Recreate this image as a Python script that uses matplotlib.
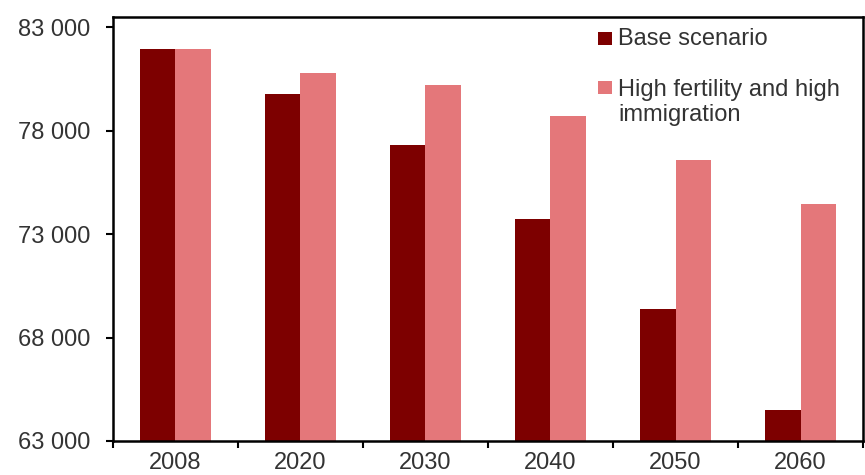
import matplotlib
matplotlib.use("Agg")
import matplotlib.pyplot as plt
import numpy as np
from matplotlib.ticker import FuncFormatter, FixedLocator
from matplotlib.patches import Rectangle

years = ["2008", "2020", "2030", "2040", "2050", "2060"]
base = [81950, 79780, 77300, 73720, 69370, 64500]
high = [81950, 80780, 80190, 78720, 76590, 74460]
series_labels = ["Base scenario", "High fertility and high\nimmigration"]
yticks = [63000, 68000, 73000, 78000, 83000]

dark = "#7D0000"
light = "#E4777A"
txt = "#333333"

plt.rcParams['font.family'] = ['Liberation Sans', 'DejaVu Sans']

fig = plt.figure(figsize=(8.65, 4.75), dpi=100)
ax = fig.add_axes([0.1306, 0.0716, 0.8671, 0.8926])

x = np.arange(len(years))
w = 0.284
ax.bar(x - w/2, base, width=w, color=dark, label=series_labels[0], zorder=2)
ax.bar(x + w/2, high, width=w, color=light, label=series_labels[1], zorder=2)

ax.set_xlim(-0.5, len(years) - 0.5)
ax.set_ylim(63000, 83500)

ax.set_yticks(yticks)
ax.yaxis.set_major_formatter(FuncFormatter(lambda v, p: f"{int(v):,}".replace(",", " ")))
ax.tick_params(axis='y', direction='out', length=5, width=1.5, colors='black',
               labelcolor=txt, labelsize=17, pad=11)

ax.set_xticks(x)
ax.set_xticklabels(years)
ax.xaxis.set_minor_locator(FixedLocator(np.arange(-0.5, len(years), 1.0)))
ax.tick_params(axis='x', which='major', length=0, labelcolor=txt, labelsize=17, pad=8)
ax.tick_params(axis='x', which='minor', direction='out', length=5, width=1.5, colors='black')

for s in ax.spines.values():
    s.set_linewidth(1.8)
    s.set_color('black')

# legend (manual layout to match the reference)
colors = [dark, light]
square_y = [0.934, 0.8184]
text_y = [0.934, 0.7547]
sq_x, sq_w, sq_h = 0.6467, 0.019, 0.031
for lab, col, sy, ty in zip(series_labels, colors, square_y, text_y):
    ax.add_patch(Rectangle((sq_x, sy), sq_w, sq_h, transform=ax.transAxes,
                           facecolor=col, edgecolor='none', clip_on=False, zorder=3))
    ax.text(0.6733, ty, lab, transform=ax.transAxes, ha='left', va='baseline',
            fontsize=17, color=txt, linespacing=1.2, zorder=3)

fig.savefig("out.png", dpi=100)
